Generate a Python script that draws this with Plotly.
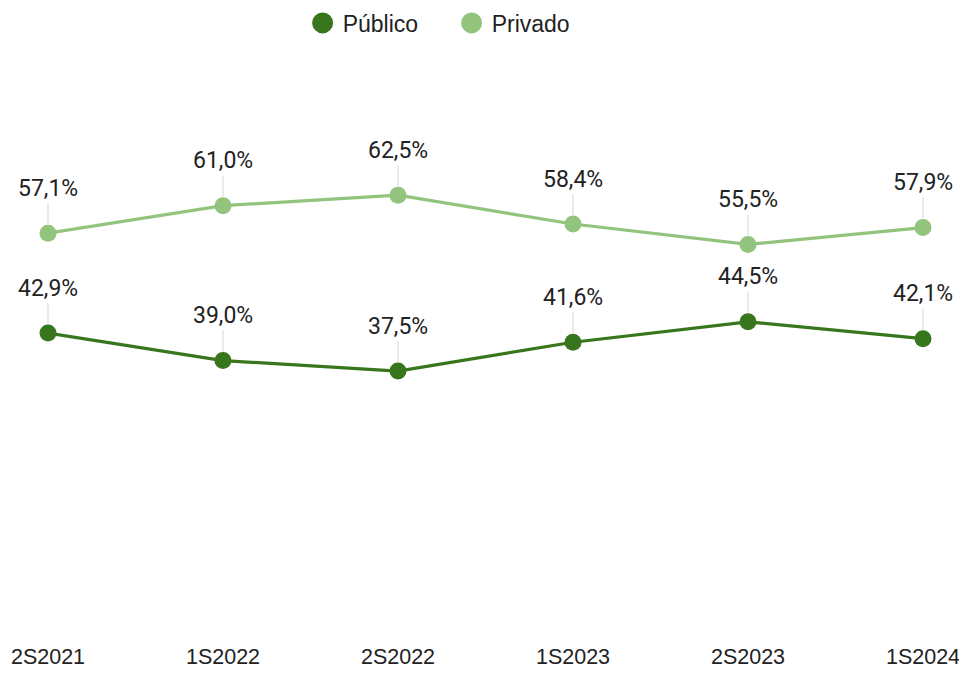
import plotly.graph_objects as go

categories = ["2S2021", "1S2022", "2S2022", "1S2023", "2S2023", "1S2024"]
publico = [42.9, 39.0, 37.5, 41.6, 44.5, 42.1]
privado = [57.1, 61.0, 62.5, 58.4, 55.5, 57.9]

col_pub = "#38761d"
col_priv = "#93c47d"
txt = "#222222"

def fmt(v):
    return f"{v:.1f}".replace(".", ",") + "%"

fig = go.Figure()
for name, vals, col in [("Público", publico, col_pub), ("Privado", privado, col_priv)]:
    fig.add_trace(go.Scatter(
        x=categories, y=vals, name=name, mode="lines+markers",
        line=dict(color=col, width=3.2),
        marker=dict(color=col, size=17),
        cliponaxis=False, showlegend=False,
    ))
    fig.add_trace(go.Scatter(
        x=[None], y=[None], name=name, mode="markers",
        marker=dict(color=col, size=16, line=dict(color=col, width=5)),
        showlegend=True,
    ))
    for c, v in zip(categories, vals):
        fig.add_annotation(
            x=c, y=v, text=fmt(v), showarrow=True, arrowhead=0,
            arrowwidth=1.5, arrowcolor="#e3e3e3", ax=0, ay=-45, standoff=9,
            font=dict(family="Roboto", size=23, color=txt),
        )

fig.update_layout(
    width=951, height=660,
    paper_bgcolor="white", plot_bgcolor="white",
    margin=dict(l=40, r=36, t=64, b=33),
    font=dict(family="Roboto", size=23, color=txt),
    showlegend=True,
    legend=dict(orientation="h", x=0.291, xanchor="left", y=0.9773, yref="container",
                yanchor="middle", entrywidth=104,
                font=dict(family="Liberation Sans, Arial", size=23, color=txt),
                itemsizing="trace"),
    xaxis=dict(showgrid=False, zeroline=False, showline=False, ticks="",
               range=[0, 5], automargin=False,
               tickfont=dict(family="Liberation Sans, Arial", size=21.5, color=txt),
               ticklabelstandoff=6),
    yaxis=dict(visible=False, range=[0, 80], showgrid=False, automargin=False),
)

fig.write_html("out.html")
